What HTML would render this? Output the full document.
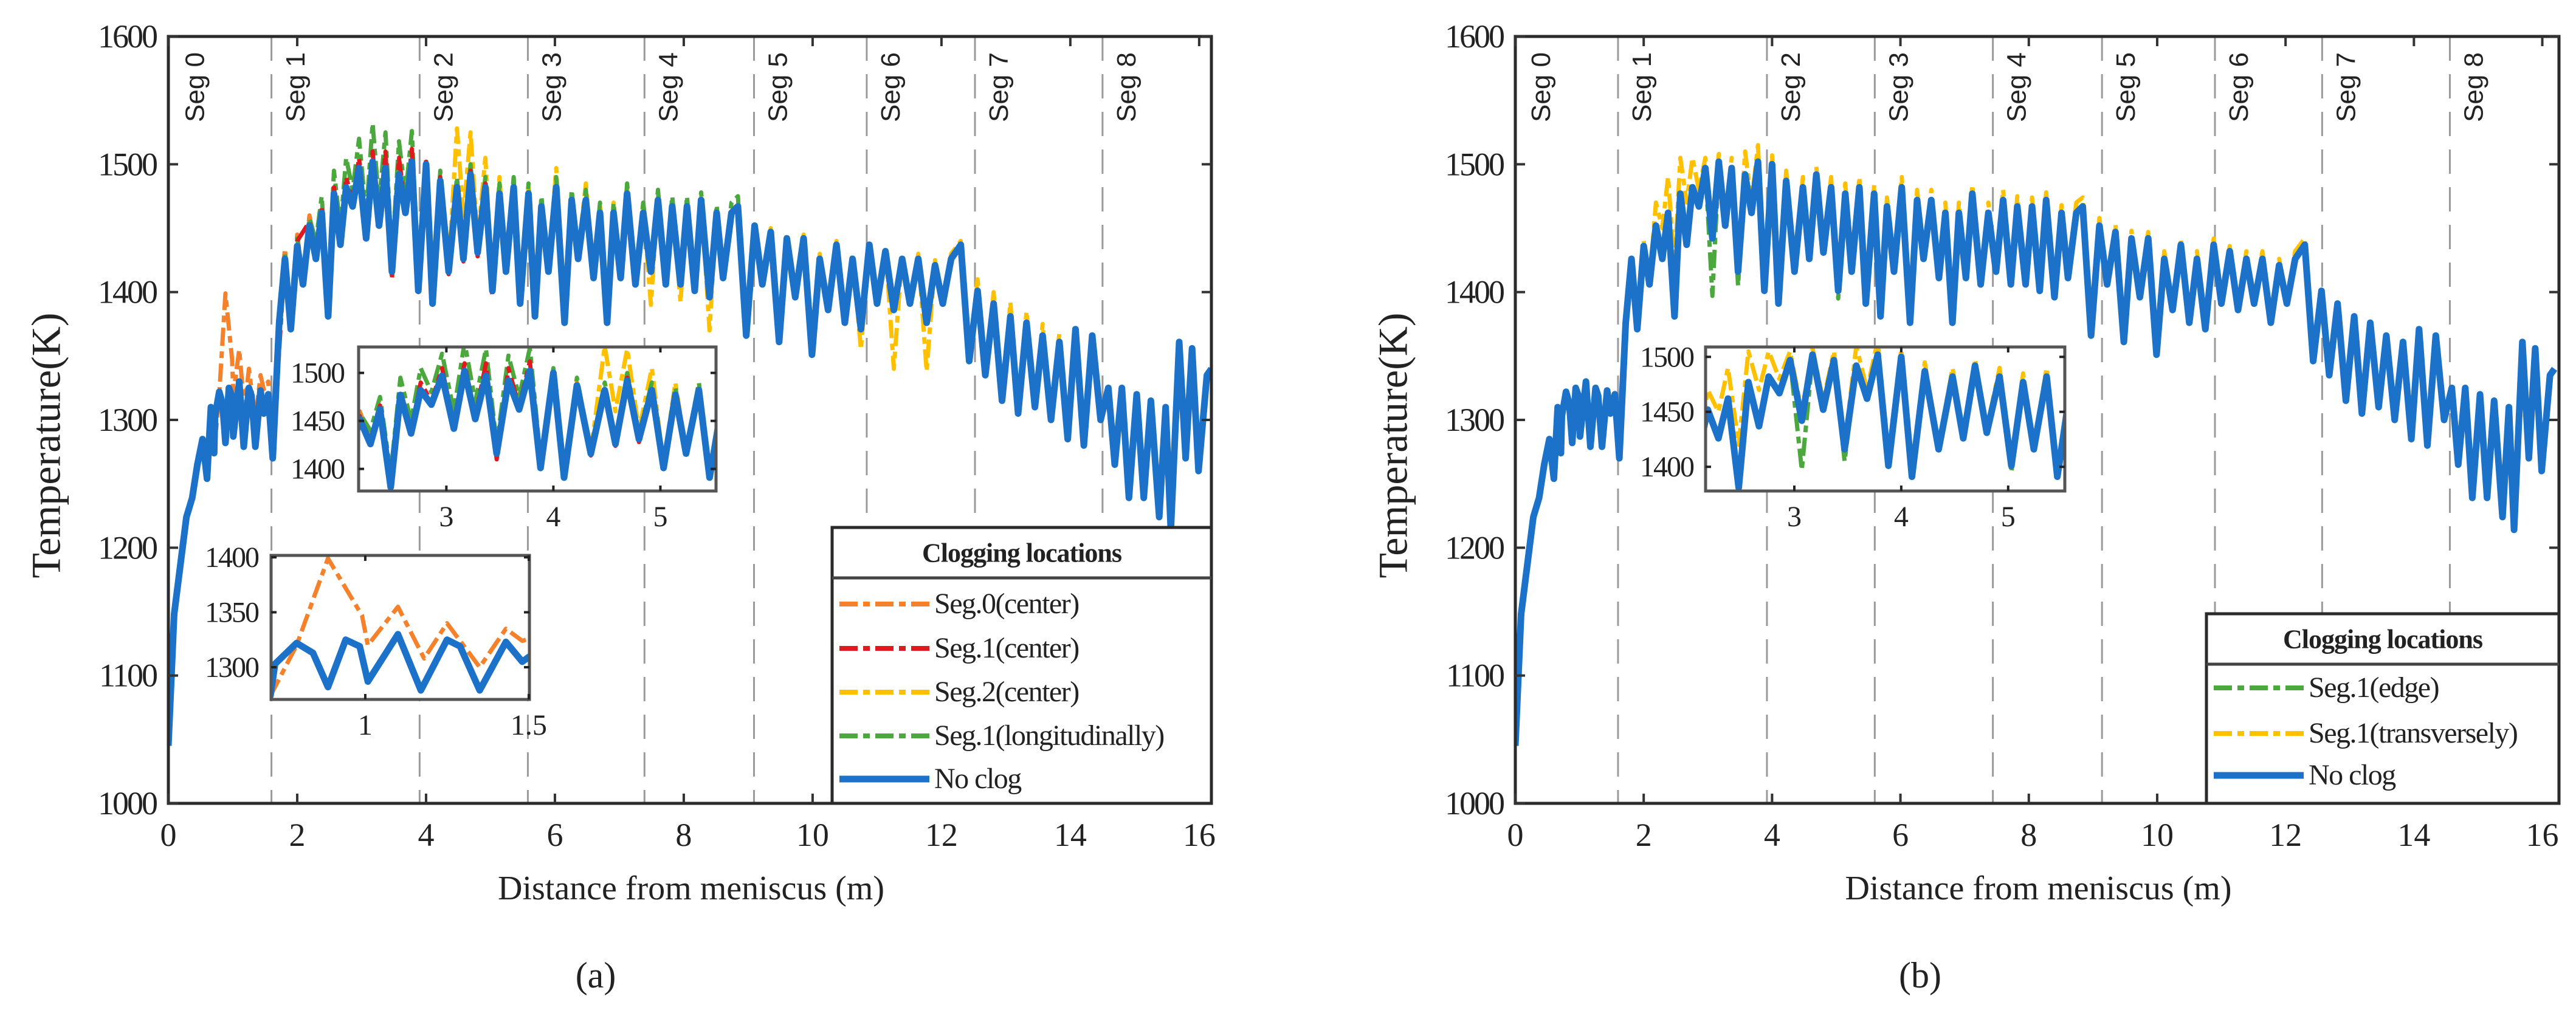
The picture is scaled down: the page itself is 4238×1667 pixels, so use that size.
<!DOCTYPE html>
<html><head><meta charset="utf-8"><style>
html,body{margin:0;padding:0;background:#fff;}
svg{display:block;}
text{font-family:"Liberation Serif",serif;fill:#222;}
.sans{font-family:"Liberation Sans",sans-serif;}
</style></head><body>
<svg id="chart" width="4238" height="1667" viewBox="0 0 4238 1667" xmlns="http://www.w3.org/2000/svg">
<defs>
<clipPath id="clipA"><rect x="277" y="60" width="1716" height="1262"/></clipPath>
<clipPath id="clipB"><rect x="2493" y="60" width="1717" height="1262"/></clipPath>
<clipPath id="clipA1"><rect x="590" y="571" width="588" height="237"/></clipPath>
<clipPath id="clipA2"><rect x="446" y="914" width="425" height="237"/></clipPath>
<clipPath id="clipB1"><rect x="2806" y="571" width="591" height="237"/></clipPath>
</defs>
</svg>
<script>
// ---------- DATA ----------
const noClogX = [0,0.09,0.28,0.37,0.45,0.53,0.6,0.66,0.71,0.724,0.79,0.84,0.886,0.94,0.983,1.008,1.1,1.17,1.25,1.29,1.35,1.43,1.48,1.55,1.62,1.72,1.81,1.9,2.0,2.09,2.19,2.29,2.38,2.48,2.57,2.67,2.76,2.86,2.96,3.07,3.17,3.27,3.37,3.47,3.58,3.68,3.78,3.88,4.0,4.1,4.22,4.35,4.48,4.58,4.69,4.8,4.92,5.03,5.14,5.24,5.36,5.46,5.59,5.69,5.79,5.9,6.02,6.15,6.26,6.36,6.48,6.6,6.7,6.81,6.91,7.02,7.12,7.25,7.37,7.49,7.6,7.72,7.82,7.95,8.05,8.17,8.27,8.4,8.51,8.61,8.74,8.84,8.97,9.1,9.22,9.35,9.48,9.6,9.73,9.86,9.99,10.11,10.24,10.37,10.5,10.62,10.75,10.88,11.0,11.13,11.26,11.39,11.51,11.64,11.77,11.9,12.02,12.15,12.3,12.43,12.56,12.68,12.81,12.94,13.07,13.19,13.32,13.45,13.57,13.7,13.83,13.96,14.08,14.21,14.34,14.47,14.59,14.69,14.8,14.91,15.03,15.14,15.25,15.38,15.48,15.56,15.69,15.79,15.89,15.99,16.12,16.19];
const noClogY = [1045,1148,1224,1239,1265,1285,1254,1310,1274,1303,1322,1313,1282,1325,1319,1287,1330,1279,1325,1319,1279,1323,1305,1320,1270,1376,1426,1371,1436,1406,1452,1426,1462,1381,1477,1437,1482,1467,1497,1442,1502,1452,1497,1416,1492,1462,1502,1401,1500,1391,1487,1416,1482,1426,1492,1431,1482,1401,1477,1416,1482,1391,1477,1381,1467,1416,1482,1376,1472,1426,1472,1411,1462,1376,1462,1411,1477,1406,1462,1416,1472,1406,1467,1406,1467,1401,1472,1396,1462,1411,1462,1467,1366,1452,1406,1447,1361,1442,1396,1442,1351,1426,1386,1437,1376,1426,1371,1437,1391,1432,1386,1426,1391,1426,1376,1421,1391,1426,1437,1346,1401,1335,1391,1315,1381,1305,1376,1310,1366,1300,1361,1285,1371,1280,1366,1300,1325,1265,1325,1239,1320,1239,1315,1224,1310,1214,1361,1270,1356,1260,1335,1340];

const seg0X = [0.71,0.79,0.886,0.99,1.008,1.1,1.18,1.25,1.35,1.43,1.48,1.55,1.62,1.72,1.81,1.9,2.0,2.09,2.19,2.29,2.38];
const seg0Y = [1274,1320,1399,1347,1320,1355,1308,1340,1300,1335,1324,1330,1272,1385,1434,1376,1445,1410,1460,1430,1468];

const seg1cX = [1.62,1.81,1.9,2.0,2.19,2.29,2.38,2.48,2.57,2.67,2.76,2.86,2.96,3.07,3.17,3.27,3.37,3.47,3.58,3.68,3.78,3.88,4.0,4.1,4.22,4.35,4.48,4.58,4.69,4.8,4.92,5.03];
const seg1cY = [1272,1428,1372,1440,1455,1428,1466,1385,1482,1440,1490,1470,1505,1445,1510,1455,1510,1410,1505,1465,1512,1400,1502,1390,1490,1414,1485,1424,1495,1428,1485,1396];

const seg2cX = [3.78,3.88,4.0,4.1,4.22,4.35,4.48,4.58,4.69,4.8,4.92,5.03,5.14,5.24,5.36,5.46,5.59,5.69,5.79,5.9,6.02,6.15,6.26,6.36,6.48,6.6,6.7,6.81,6.91,7.02,7.12,7.25,7.37,7.49,7.6,7.72,7.82,7.95,8.05,8.17,8.27,8.4,8.51,8.61,8.74,8.84,8.97,9.1,9.22,9.35,9.48,9.6,9.73,9.86,9.99,10.11,10.24,10.37,10.5,10.62,10.75,10.88,11.0,11.13,11.26,11.39,11.51,11.64,11.77,11.9,12.02,12.15,12.3,12.43,12.56,12.68,12.81,12.94,13.07,13.19,13.32,13.45,13.57,13.7,13.83];
const seg2cY = [1502,1402,1502,1392,1490,1418,1528,1460,1525,1440,1505,1405,1490,1418,1485,1392,1482,1382,1470,1418,1497,1378,1478,1428,1485,1412,1468,1378,1470,1412,1482,1408,1465,1390,1475,1408,1470,1392,1470,1402,1474,1370,1465,1412,1465,1468,1367,1455,1408,1450,1362,1445,1398,1445,1352,1430,1388,1440,1377,1430,1355,1440,1392,1436,1340,1430,1392,1430,1338,1425,1392,1430,1440,1347,1410,1336,1400,1316,1392,1306,1385,1311,1375,1301,1368];

const seg1lX = [1.62,1.72,1.81,1.9,2.0,2.09,2.19,2.29,2.38,2.48,2.57,2.67,2.76,2.86,2.96,3.07,3.17,3.27,3.37,3.47,3.58,3.68,3.78,3.88,4.0,4.1,4.22,4.35,4.48,4.58,4.69,4.8,4.92,5.03,5.14,5.24,5.36,5.46,5.59,5.69,5.79,5.9,6.02,6.15,6.26,6.36,6.48,6.6,6.7,6.81,6.91,7.02,7.12,7.25,7.37,7.49,7.6,7.72,7.82,7.95,8.05,8.17,8.27,8.4,8.51,8.61,8.74,8.84,8.97];
const seg1lY = [1272,1380,1430,1374,1442,1410,1458,1440,1475,1395,1495,1450,1505,1480,1520,1460,1532,1470,1525,1425,1518,1475,1526,1410,1505,1395,1495,1420,1490,1430,1500,1436,1490,1405,1485,1420,1490,1395,1485,1385,1475,1420,1490,1380,1480,1430,1480,1415,1470,1380,1470,1415,1485,1410,1470,1420,1480,1410,1475,1410,1475,1405,1478,1400,1468,1415,1470,1475,1368];

const seg1eX = [2.76,2.86,2.96,3.07,3.17,3.27,3.37,3.47,3.58,3.68,3.78,3.88,4.0,4.1,4.22,4.35,4.48,4.58,4.69,4.8,4.92,5.03,5.14];
const seg1eY = [1482,1467,1497,1397,1500,1452,1497,1405,1490,1462,1502,1401,1500,1391,1487,1416,1482,1426,1492,1431,1480,1395,1477];

const seg1tX = [2.0,2.09,2.19,2.29,2.38,2.48,2.57,2.67,2.76,2.86,2.96,3.07,3.17,3.27,3.37,3.47,3.58,3.68,3.78,3.88,4.0,4.1,4.22,4.35,4.48,4.58,4.69,4.8,4.92,5.03,5.14,5.24,5.36,5.46,5.59,5.69,5.79,5.9,6.02,6.15,6.26,6.36,6.48,6.6,6.7,6.81,6.91,7.02,7.12,7.25,7.37,7.49,7.6,7.72,7.82,7.95,8.05,8.17,8.27,8.4,8.51,8.61,8.74,8.84,8.97,9.1,9.22,9.35,9.48,9.6,9.73,9.86,9.99,10.11,10.24,10.37,10.5,10.62,10.75,10.88,11.0,11.13,11.26,11.39,11.51,11.64,11.77,11.9,12.02,12.15,12.3,12.43];
const seg1tY = [1440,1408,1470,1450,1490,1420,1505,1470,1505,1480,1505,1450,1508,1460,1505,1420,1510,1470,1515,1405,1507,1395,1495,1420,1490,1430,1498,1435,1490,1405,1485,1420,1490,1395,1484,1385,1474,1420,1490,1380,1480,1430,1480,1415,1470,1380,1470,1415,1484,1410,1470,1420,1480,1410,1475,1410,1474,1405,1478,1400,1468,1415,1470,1474,1370,1458,1410,1453,1365,1448,1400,1447,1355,1432,1390,1442,1380,1432,1375,1442,1395,1436,1390,1432,1395,1432,1380,1426,1395,1432,1442,1350];

const xTicks = [0,2,4,6,8,10,12,14,16];
const yTicks = [1000,1100,1200,1300,1400,1500,1600];
const segLinesA = [1.6,3.9,5.58,7.39,9.09,10.84,12.52,14.5];
const segLinesB = [1.6,3.92,5.6,7.44,9.14,10.9,12.57,14.56];
const segNames = ["Seg 0","Seg 1","Seg 2","Seg 3","Seg 4","Seg 5","Seg 6","Seg 7","Seg 8"];
const legendA = ["Seg.0(center)","Seg.1(center)","Seg.2(center)","Seg.1(longitudinally)","No clog"];
const legendB = ["Seg.1(edge)","Seg.1(transversely)","No clog"];

// ---------- DRAWING ----------
const NS = "http://www.w3.org/2000/svg";
const svg = document.getElementById('chart');
const C = {orange:"#f5812b", red:"#e0191e", yellow:"#ffc000", green:"#4aa83c", blue:"#1b72c8"};
const DASH = "30,9,11,9";
function mk(tag, attrs, parent){
  const e = document.createElementNS(NS, tag);
  for (const k in attrs) e.setAttribute(k, attrs[k]);
  (parent||svg).appendChild(e);
  return e;
}
function scale(d0,d1,p0,p1){ return v => p0 + (v-d0)/(d1-d0)*(p1-p0); }
function drawSeries(g, xs, ys, sx, sy, color, width, dashed, name){
  let d = "";
  for (let i=0;i<xs.length;i++) d += (i?"L":"M")+sx(xs[i]).toFixed(1)+","+sy(ys[i]).toFixed(1);
  const p = mk('path', {d:d, fill:"none", stroke:color, 'stroke-width':width, 'stroke-linejoin':'round'}, g);
  if (dashed) p.setAttribute('stroke-dasharray', DASH);
  
  
  return p;
}
function text(parent, x, y, s, size, anchor, extra){
  const t = mk('text', {x:x, y:y, 'font-size':size, 'text-anchor':anchor||'middle'}, parent);
  if (extra) for (const k in extra) t.setAttribute(k, extra[k]);
  t.textContent = s;
  return t;
}

function panel(cfg){
  const g = mk('g', {});
  
  
  const L=cfg.left, R=cfg.right, T=60, B=1322;
  const sx = scale(0, cfg.xmax, L, R), sy = scale(1000, 1600, B, T);
  cfg.segLines.forEach((v,i)=>{
    const l = mk('line', {x1:sx(v), x2:sx(v), y1:T, y2:B, stroke:"#9a9a9a", 'stroke-width':3, 'stroke-dasharray':"40,22"}, g);
    
    
  });
  const segPos = [cfg.seg0].concat(cfg.segLines.map(v=>v+0.37));
  segPos.forEach((v,i)=>{
    const x = sx(v)+15;
    const t = text(g, x, 86, segNames[i], 44, 'end', {transform:`rotate(-90 ${x} 86)`, class:'sans'});
    
    
  });
  const sg = mk('g', {'clip-path':`url(#${cfg.clip})`}, g);
  cfg.series.forEach(s=> drawSeries(sg, s.x, s.y, sx, sy, s.c, s.w, s.dash, s.name));
  const box = mk('rect', {x:L, y:T, width:R-L, height:B-T, fill:"none", stroke:"#2a2a2a", 'stroke-width':5}, g);
  
  
  xTicks.forEach(v=>{
    const x = sx(v);
    mk('line', {x1:x,x2:x,y1:B,y2:B-16,stroke:"#333",'stroke-width':4}, g);
    mk('line', {x1:x,x2:x,y1:T,y2:T+16,stroke:"#333",'stroke-width':4}, g);
    const t = text(g, x, B+70, String(v), 54);
    
    
  });
  yTicks.forEach(v=>{
    const y = sy(v);
    mk('line', {x1:L,x2:L+16,y1:y,y2:y,stroke:"#333",'stroke-width':4}, g);
    mk('line', {x1:R,x2:R-16,y1:y,y2:y,stroke:"#333",'stroke-width':4}, g);
    const t = text(g, L-20, y+18, String(v), 54, 'end', {'letter-spacing':'-3'});
    
    
  });
  const yl = text(g, L-194, 733, "Temperature(K)", 68, 'middle', {transform:`rotate(-90 ${L-194} 733)`, 'dominant-baseline':'middle'});
  
  
  const xl = text(g, (L+R)/2 + 2, 1480, "Distance from meniscus (m)", 56);
  
  
  const cap = text(g, cfg.capX, 1625, cfg.cap, 60);
  
  
  cfg.insets.forEach(ins=>{
    const ig = mk('g', {}, g);
    
    
    mk('rect', {x:ins.x0, y:ins.y0, width:ins.x1-ins.x0, height:ins.y1-ins.y0, fill:"#fff"}, ig);
    const isx = scale(ins.dx[0], ins.dx[1], ins.x0, ins.x1), isy = scale(ins.dy[0], ins.dy[1], ins.y1, ins.y0);
    const cg = mk('g', {'clip-path':`url(#${ins.clip})`}, ig);
    cfg.series.forEach(s=> drawSeries(cg, s.x, s.y, isx, isy, s.c, s.w, s.dash, s.name+'-inset'));
    mk('rect', {x:ins.x0, y:ins.y0, width:ins.x1-ins.x0, height:ins.y1-ins.y0, fill:"none", stroke:"#555", 'stroke-width':5}, ig);
    ins.xt.forEach(v=>{
      const x = isx(v);
      mk('line', {x1:x,x2:x,y1:ins.y1,y2:ins.y1-9,stroke:"#222",'stroke-width':4}, ig);
      mk('line', {x1:x,x2:x,y1:ins.y0,y2:ins.y0+9,stroke:"#222",'stroke-width':4}, ig);
      const t = text(ig, x, ins.y1+58, String(v), 48);
      
      
    });
    ins.yt.forEach(v=>{
      const y = isy(v);
      mk('line', {x1:ins.x0,x2:ins.x0+9,y1:y,y2:y,stroke:"#222",'stroke-width':4}, ig);
      mk('line', {x1:ins.x1,x2:ins.x1-9,y1:y,y2:y,stroke:"#222",'stroke-width':4}, ig);
      const t = text(ig, ins.labX, y+16, String(v), 48, 'end', {'letter-spacing':'-2'});
      
      
    });
  });
  const lg = mk('g', {}, g);
  
  
  const lc = cfg.legend;
  mk('rect', {x:lc.x0, y:lc.y0, width:R-lc.x0, height:B-lc.y0, fill:"#fff", stroke:"#2a2a2a", 'stroke-width':5}, lg);
  mk('line', {x1:lc.x0, x2:R, y1:lc.sep, y2:lc.sep, stroke:"#444", 'stroke-width':5}, lg);
  const lt = text(lg, (lc.x0+R)/2, (lc.y0+lc.sep)/2+15, "Clogging locations", 44, 'middle', {'font-weight':'bold', 'letter-spacing':'-1'});
  
  
  lc.labels.forEach((s,i)=>{
    const y = lc.rows[i];
    const eg = mk('g', {}, lg);
    
    
    const l = mk('line', {x1:lc.x0+12, x2:lc.x0+160, y1:y, y2:y, stroke:lc.colors[i], 'stroke-width': lc.colors[i]===C.blue?11:8}, eg);
    if (lc.colors[i]!==C.blue) l.setAttribute('stroke-dasharray', DASH);
    text(eg, lc.x0+168, y+15, s, 48, 'start', {'letter-spacing':'-1.5'});
  });
}

panel({name:'panel-a', left:277, right:1993, xmax:16.19, clip:'clipA', segLines:segLinesA, seg0:0.41, cap:'(a)', capX:980,
  series:[
    {x:seg0X, y:seg0Y, c:C.orange, w:7, dash:true, name:'series-seg0-center'},
    {x:seg2cX, y:seg2cY, c:C.yellow, w:7, dash:true, name:'series-seg2-center'},
    {x:seg1lX, y:seg1lY, c:C.green, w:7, dash:true, name:'series-seg1-longitudinally'},
    {x:seg1cX, y:seg1cY, c:C.red, w:7, dash:true, name:'series-seg1-center'},
    {x:noClogX, y:noClogY, c:C.blue, w:11, dash:false, name:'series-no-clog'}
  ],
  insets:[
    {name:'inset-zoom-2-5m', clip:'clipA1', x0:590, y0:571, x1:1178, y1:808, dx:[2.18,5.52], dy:[1377,1527], xt:[3,4,5], yt:[1400,1450,1500], labX:566},
    {name:'inset-zoom-0-1.5m', clip:'clipA2', x0:446, y0:914, x1:871, y1:1151, dx:[0.712,1.502], dy:[1270.7,1401.7], xt:[1,1.5], yt:[1300,1350,1400], labX:425}
  ],
  legend:{x0:1369, y0:868, sep:951, rows:[994,1067,1139,1211,1282], labels:legendA, colors:[C.orange,C.red,C.yellow,C.green,C.blue]}
});
panel({name:'panel-b', left:2493, right:4210, xmax:16.26, clip:'clipB', segLines:segLinesB, seg0:0.4, cap:'(b)', capX:3159,
  series:[
    {x:seg1tX, y:seg1tY, c:C.yellow, w:7, dash:true, name:'series-seg1-transversely'},
    {x:seg1eX, y:seg1eY, c:C.green, w:7, dash:true, name:'series-seg1-edge'},
    {x:noClogX, y:noClogY, c:C.blue, w:11, dash:false, name:'series-no-clog'}
  ],
  insets:[
    {name:'inset-zoom-2-5m', clip:'clipB1', x0:2806, y0:571, x1:3397, y1:808, dx:[2.17,5.53], dy:[1378,1509], xt:[3,4,5], yt:[1400,1450,1500], labX:2786}
  ],
  legend:{x0:3630, y0:1010, sep:1093, rows:[1132,1207,1276], labels:legendB, colors:[C.green,C.yellow,C.blue]}
});
</script>
</body></html>
